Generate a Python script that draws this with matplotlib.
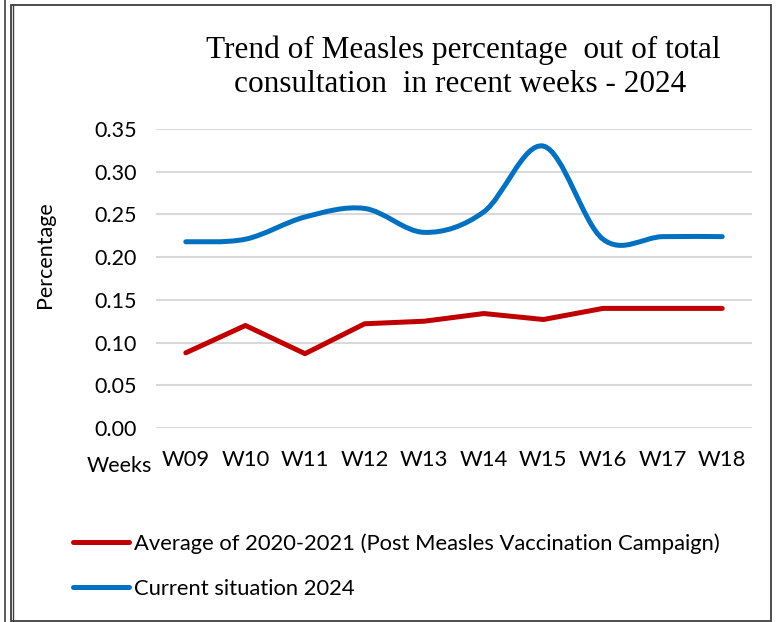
import matplotlib
matplotlib.use("Agg")
import matplotlib.pyplot as plt
from matplotlib.path import Path
from matplotlib.patches import PathPatch, Rectangle
from matplotlib.lines import Line2D
import numpy as np

weeks = ["W09", "W10", "W11", "W12", "W13", "W14", "W15", "W16", "W17", "W18"]
avg_2020_2021 = [0.088, 0.120, 0.087, 0.122, 0.125, 0.134, 0.127, 0.140, 0.140, 0.140]
current_2024 = [0.218, 0.221, 0.247, 0.257, 0.229, 0.253, 0.330, 0.221, 0.224, 0.224]
yticks = [0.00, 0.05, 0.10, 0.15, 0.20, 0.25, 0.30, 0.35]

RED = "#C00000"
BLUE = "#0070C0"
W, H = 776, 622

plt.rcParams['font.family'] = ['Lato', 'DejaVu Sans']


def smooth_path(xs, ys):
	# excel-like smoothed line: catmull-rom as cubic bezier segments
	pts = np.column_stack([xs, ys]).astype(float)
	n = len(pts)
	verts = [pts[0]]
	codes = [Path.MOVETO]
	for i in range(n - 1):
		p0 = pts[i - 1] if i > 0 else pts[i]
		p1 = pts[i]
		p2 = pts[i + 1]
		p3 = pts[i + 2] if i + 2 < n else pts[i + 1]
		c1 = p1 + (p2 - p0) / 6.0
		c2 = p2 - (p3 - p1) / 6.0
		verts += [c1, c2, p2]
		codes += [Path.CURVE4] * 3
	return Path(verts, codes)


fig = plt.figure(figsize=(W / 100, H / 100), dpi=100)
ax = fig.add_axes([156 / W, 1 - 428 / H, 596 / W, 299 / H])

x = np.arange(len(weeks))
ax.plot(x, avg_2020_2021, color=RED, lw=3.6, solid_capstyle='round', solid_joinstyle='round', zorder=3)
ax.add_patch(PathPatch(smooth_path(x, current_2024), facecolor='none', edgecolor=BLUE,
	lw=3.6, capstyle='round', joinstyle='round', zorder=4))

ax.set_xlim(-0.5, len(weeks) - 0.5)
ax.set_ylim(0, 0.35)
ax.set_yticks(yticks)
ax.set_yticklabels(["%.2f" % v for v in yticks])
ax.set_xticks(x)
ax.set_xticklabels(weeks)
ax.tick_params(axis='y', length=0, pad=14, labelsize=15.5, colors='#000000')
ax.tick_params(axis='x', length=0, pad=16, labelsize=15.8, colors='#000000')
ax.grid(axis='y', color='#D9D9D9', lw=1.5)
ax.set_axisbelow(True)
for s in ['top', 'right', 'left', 'bottom']:
	ax.spines[s].set_visible(False)

fig.text(45 / W, 1 - 255 / H, "Percentage", rotation=90, ha='center', va='center', fontsize=15.5)
fig.text(87 / W, 1 - 466 / H, "Weeks", ha='left', va='center', fontsize=15.5)

# title
fig.text(463 / W, 1 - 58 / H, "Trend of Measles percentage  out of total", family='Liberation Serif',
	fontsize=22.5, ha='center', va='baseline')
fig.text(460 / W, 1 - 92 / H, "consultation  in recent weeks - 2024", family='Liberation Serif',
	fontsize=22.5, ha='center', va='baseline')

handles = [Line2D([], [], color=RED, lw=3.6, solid_capstyle='round'),
	Line2D([], [], color=BLUE, lw=3.6, solid_capstyle='round')]
labels = ["Average of 2020-2021 (Post Measles Vaccination Campaign)", "Current situation 2024"]
fig.legend(handles, labels, loc='upper left', bbox_to_anchor=(73 / W, 1 - 533 / H), frameon=False,
	fontsize=15.8, handlelength=2.55, handletextpad=0.25, labelspacing=1.15, borderpad=0, borderaxespad=0)

# frame around chart
edge = '#3F3F3F'
fig.add_artist(Line2D([4.5 / W, 4.5 / W], [0, 1], transform=fig.transFigure, color=edge, lw=1.2))
fig.add_artist(Rectangle((10.5 / W, 1 - 620.5 / H), 760.5 / W, 616 / H, transform=fig.transFigure,
	fill=False, edgecolor=edge, lw=1.3))
fig.add_artist(Line2D([13 / W, 13 / W], [1 - 620.5 / H, 1 - 4.5 / H], transform=fig.transFigure, color=edge, lw=1.0))

fig.savefig("out.png", dpi=100)
